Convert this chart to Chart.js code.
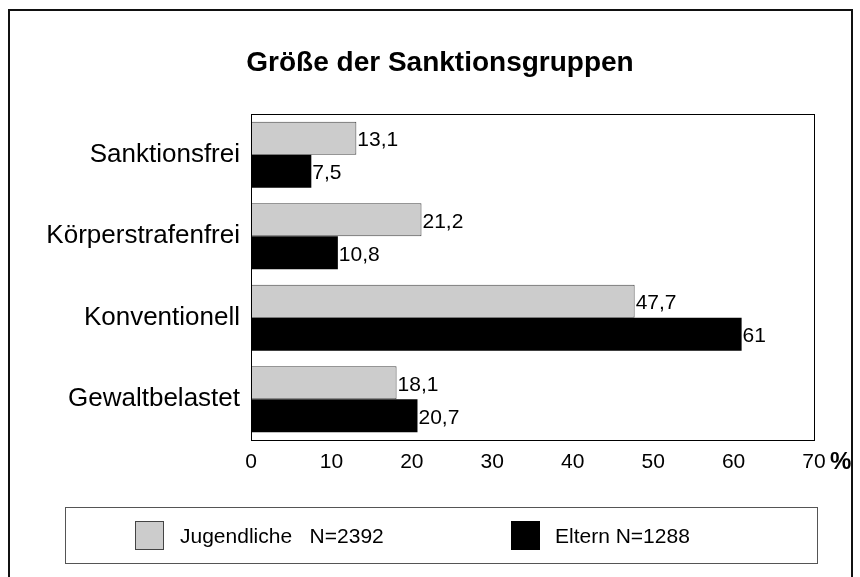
<!DOCTYPE html>
<html>
<head>
<meta charset="utf-8">
<script src="https://cdn.jsdelivr.net/npm/chart.js@4"></script>
<style>
  html, body { margin: 0; padding: 0; background: #fff; }
  #wrap { width: 860px; height: 577px; }
</style>
</head>
<body>
<div id="wrap"><canvas id="myChart" width="860" height="577"></canvas></div>
<script>
// data
const categories = ['Sanktionsfrei', 'Körperstrafenfrei', 'Konventionell', 'Gewaltbelastet'];
const jugendliche = [13.1, 21.2, 47.7, 18.1];
const eltern = [7.5, 10.8, 61, 20.7];
const series_names = ['Jugendliche   N=2392', 'Eltern N=1288'];
const title_text = 'Größe der Sanktionsgruppen';

const FONT = 'Arial, "Liberation Sans", sans-serif';

const fmt = v => String(v).replace('.', ',');

// frame, title, legend box, value labels, % sign
const decor = {
  id: 'decor',
  beforeDraw(chart) {
    const ctx = chart.ctx;
    ctx.save();
    ctx.fillStyle = '#fff';
    ctx.fillRect(0, 0, chart.width, chart.height);
    ctx.strokeStyle = '#111';
    ctx.lineWidth = 2;
    ctx.strokeRect(9, 10, 843, 620);
    ctx.restore();
  },
  afterDatasetsDraw(chart) {
    const ctx = chart.ctx;
    const a = chart.chartArea;
    ctx.save();
    // plot box
    ctx.strokeStyle = '#000';
    ctx.lineWidth = 1;
    ctx.strokeRect(a.left + 0.5, a.top + 0.5, a.right - a.left, a.bottom - a.top);

    // value labels
    ctx.fillStyle = '#000';
    ctx.font = '21px ' + FONT;
    ctx.textAlign = 'left';
    ctx.textBaseline = 'middle';
    chart.data.datasets.forEach((ds, i) => {
      chart.getDatasetMeta(i).data.forEach((bar, j) => {
        ctx.fillText(fmt(ds.data[j]), bar.x + 1, bar.y + 2);
      });
    });

    // title
    ctx.font = 'bold 28px ' + FONT;
    ctx.textAlign = 'center';
    ctx.fillText(title_text, 440, 63);

    // % after the axis
    ctx.font = 'bold 24px ' + FONT;
    ctx.textAlign = 'left';
    ctx.fillText('%', 830, 462);

    // legend
    ctx.strokeStyle = '#555';
    ctx.strokeRect(65.5, 507.5, 752, 56);
    ctx.fillStyle = '#cccccc';
    ctx.fillRect(135, 521, 28, 28);
    ctx.strokeStyle = '#444';
    ctx.strokeRect(135.5, 521.5, 28, 28);
    ctx.fillStyle = '#000';
    ctx.fillRect(511, 521, 29, 29);
    ctx.font = '21px ' + FONT;
    ctx.fillText(series_names[0], 180, 537);
    ctx.fillText(series_names[1], 555, 537);
    ctx.restore();
  }
};

const config = {
  type: 'bar',
  data: {
    labels: categories,
    datasets: [
      {
        label: series_names[0],
        data: jugendliche,
        backgroundColor: '#cccccc',
        borderColor: '#444',
        borderWidth: 1,
        borderSkipped: false,
        categoryPercentage: 0.81,
        barPercentage: 1.0,
      },
      {
        label: series_names[1],
        data: eltern,
        backgroundColor: '#000',
        borderWidth: 0,
        categoryPercentage: 0.81,
        barPercentage: 1.0,
      }
    ]
  },
  options: {
    responsive: false,
    animation: false,
    indexAxis: 'y',
    layout: { padding: { top: 114, right: 46, bottom: 97, left: 0 } },
    plugins: {
      legend: { display: false },
      title: { display: false },
      tooltip: { enabled: false }
    },
    scales: {
      x: {
        min: 0,
        max: 70,
        grid: { display: false, drawTicks: false },
        border: { display: false },
        ticks: {
          stepSize: 10,
          color: '#000',
          padding: 10,
          font: { family: FONT, size: 21 }
        },
        afterFit(scale) { scale.height = 40; }
      },
      y: {
        grid: { display: false, drawTicks: false },
        border: { display: false },
        ticks: {
          color: '#000',
          padding: 11,
          font: { family: FONT, size: 26 }
        },
        afterFit(scale) { scale.width = 251; }
      }
    }
  },
  plugins: [decor]
};

const myChart = new Chart(document.getElementById('myChart'), config);
</script>
</body>
</html>
